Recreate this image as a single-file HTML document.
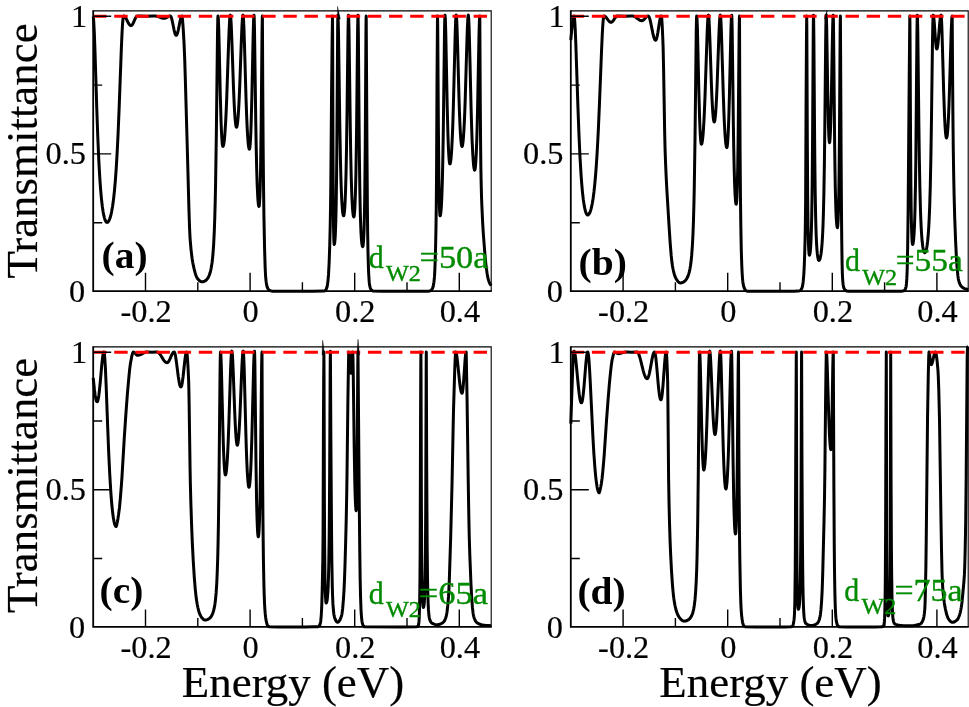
<!DOCTYPE html>
<html lang="en">
<head>
<meta charset="utf-8">
<title>Transmittance vs Energy</title>
<style>
html,body{margin:0;padding:0;background:#fff;}
body{width:969px;height:707px;overflow:hidden;}
svg{display:block;}
text{font-family:"Liberation Serif","Times New Roman",Times,serif;fill:#000;}
.tl{font-size:31.4px;stroke:#000;stroke-width:0.2;}
.pl{font-size:38.3px;font-weight:bold;}
.gl{font-size:32.2px;fill:#008b00;stroke:#008b00;stroke-width:0.35;}
.gl .sub{font-size:23px;}
.axl{font-size:44.9px;stroke:#000;stroke-width:0.2;}
.frame{fill:none;stroke:#000;stroke-width:1.8;stroke-linecap:butt;stroke-linejoin:miter;}
.frame-thin{fill:none;stroke:#000;stroke-width:1.1;}
.tick{fill:none;stroke:#000;stroke-width:1.4;}
.ref{fill:none;stroke:#ff0000;stroke-width:3;stroke-dasharray:13.4 7.74;}
.curve{fill:none;stroke:#000;stroke-width:3;stroke-linejoin:round;stroke-linecap:butt;}
.spike{fill:#000;stroke:#000;stroke-width:0.4;stroke-linejoin:miter;stroke-miterlimit:20;}
</style>
</head>
<body>
<svg width="969" height="707" viewBox="0 0 969 707">
<rect width="969" height="707" fill="#ffffff"/>
<g id="panel-a">
<path class="curve" d="M93.20 16.45 L93.48 18.40 L93.72 21.33 L94.33 33.06 L94.93 49.51 L96.74 107.53 L97.71 134.99 L98.79 160.07 L99.40 171.42 L100.00 181.12 L100.72 190.86 L101.45 198.82 L102.29 206.22 L103.14 211.92 L103.98 216.20 L104.47 218.08 L104.95 219.60 L105.43 220.78 L105.91 221.63 L106.40 222.16 L106.64 222.31 L107.00 222.40 L107.60 222.23 L108.20 221.73 L108.80 220.88 L109.41 219.67 L110.01 218.08 L110.49 216.52 L111.09 214.17 L111.57 211.96 L112.53 206.52 L113.50 199.54 L114.46 190.69 L115.30 181.12 L116.02 171.33 L116.74 159.86 L117.47 146.54 L118.07 133.94 L119.15 107.90 L121.31 49.40 L122.04 32.85 L122.40 26.25 L122.76 21.13 L123.12 17.70 L123.36 16.43 L123.48 16.11 L123.60 16.00 L123.96 16.06 L124.45 16.32 L125.06 16.92 L126.03 18.40 L128.09 22.47 L129.06 24.13 L129.54 24.77 L130.03 25.24 L130.51 25.53 L131.00 25.63 L131.36 25.56 L131.72 25.34 L132.09 24.98 L132.57 24.31 L133.42 22.70 L134.98 19.08 L135.71 17.61 L136.43 16.55 L136.80 16.22 L137.16 16.04 L138.97 16.02 L146.00 16.28 L153.32 16.02 L155.60 16.03 L156.56 16.17 L157.52 16.43 L160.76 17.67 L161.84 18.02 L162.92 18.26 L164.00 18.34 L164.73 18.26 L165.57 18.00 L166.42 17.59 L168.12 16.63 L168.97 16.25 L169.69 16.05 L170.42 16.02 L170.66 16.19 L171.02 16.75 L171.38 17.67 L171.74 18.89 L172.47 22.03 L174.03 29.82 L174.76 32.72 L175.12 33.81 L175.48 34.61 L175.84 35.10 L176.20 35.26 L176.44 35.19 L176.80 34.79 L177.17 34.06 L177.53 33.02 L178.38 29.61 L179.95 21.66 L180.55 19.00 L180.91 17.73 L181.28 16.79 L181.64 16.20 L182.00 16.00 L182.24 17.36 L182.60 20.64 L183.20 28.71 L184.05 43.32 L184.65 57.67 L185.37 80.43 L187.42 152.74 L188.99 211.27 L189.59 228.58 L189.95 236.15 L190.19 239.92 L191.04 249.58 L191.52 253.95 L192.12 258.50 L192.72 262.27 L193.33 265.44 L194.05 268.69 L195.01 272.44 L195.61 274.44 L196.22 276.12 L196.82 277.47 L197.42 278.44 L198.75 279.96 L199.95 281.04 L200.55 281.43 L201.04 281.65 L201.52 281.79 L202.00 281.84 L203.32 281.69 L204.53 281.26 L205.61 280.61 L206.69 279.64 L207.65 278.41 L208.50 276.97 L209.22 275.36 L209.94 273.30 L210.54 271.11 L211.14 268.35 L211.62 265.61 L212.11 262.23 L212.59 258.03 L212.95 254.19 L213.67 244.03 L214.27 231.91 L214.75 218.64 L215.23 200.83 L215.59 183.53 L216.32 135.69 L217.52 32.40 L217.76 20.29 L217.88 17.09 L218.00 16.00 L218.12 16.38 L218.37 19.38 L218.74 28.88 L219.10 42.81 L220.33 96.74 L221.06 121.64 L221.43 130.77 L221.80 137.73 L222.16 142.61 L222.41 144.75 L222.66 146.02 L222.78 146.34 L222.90 146.44 L223.02 146.40 L223.26 146.03 L223.39 145.71 L223.75 144.20 L224.11 141.84 L224.48 138.61 L224.84 134.49 L225.57 123.47 L226.18 111.35 L226.78 96.60 L228.60 43.16 L229.09 30.51 L229.57 20.98 L229.81 17.80 L230.06 15.84 L230.18 15.34 L230.30 15.17 L230.42 15.35 L230.66 16.77 L230.91 19.54 L231.27 25.95 L231.88 41.12 L233.46 87.03 L234.07 101.48 L234.55 110.80 L235.04 118.01 L235.53 123.12 L235.77 124.90 L236.01 126.17 L236.26 126.93 L236.38 127.12 L236.50 127.18 L236.62 127.12 L236.74 126.96 L236.86 126.67 L237.10 125.77 L237.58 122.60 L238.19 116.03 L238.67 108.66 L239.15 99.43 L239.75 85.43 L241.31 41.88 L241.92 27.25 L242.28 20.74 L242.52 17.69 L242.76 15.81 L242.88 15.33 L243.00 15.17 L243.12 15.40 L243.24 16.09 L243.48 18.77 L243.97 28.84 L244.45 43.52 L246.02 98.17 L246.62 115.29 L247.11 126.39 L247.59 135.19 L248.19 143.06 L248.43 145.29 L248.80 147.68 L249.04 148.65 L249.16 148.95 L249.28 149.14 L249.40 149.20 L249.52 149.08 L249.64 148.73 L249.88 147.30 L250.25 143.35 L250.73 134.52 L251.09 125.07 L251.82 98.57 L253.27 30.03 L253.64 19.10 L253.88 15.62 L254.00 15.17 L254.12 16.09 L254.24 18.78 L254.49 28.96 L255.83 125.59 L256.20 146.94 L256.68 168.94 L257.17 184.62 L257.78 197.35 L258.02 200.73 L258.39 204.25 L258.63 205.66 L258.76 206.09 L258.88 206.35 L259.00 206.44 L259.12 206.25 L259.24 205.70 L259.49 203.43 L259.85 196.88 L260.21 185.79 L260.58 168.84 L261.19 122.98 L262.04 32.32 L262.28 17.93 L262.40 16.00 L262.76 89.86 L263.12 144.21 L263.48 182.03 L263.96 217.91 L264.56 247.83 L265.16 267.82 L265.64 276.76 L266.12 281.52 L266.60 284.68 L266.97 286.30 L267.33 287.47 L267.81 288.53 L268.29 289.29 L268.89 289.96 L269.61 290.47 L270.57 290.86 L271.53 291.08 L272.49 291.14 L279.58 291.19 L313.01 291.19 L323.11 291.12 L323.96 291.00 L324.68 290.79 L325.16 290.56 L325.64 290.15 L326.12 289.43 L326.60 288.33 L327.08 286.75 L327.33 285.64 L327.93 281.35 L328.53 274.40 L329.13 262.92 L329.73 245.56 L330.21 225.87 L330.57 204.90 L330.82 183.88 L331.54 94.90 L332.14 39.77 L332.50 16.00 L332.62 31.87 L332.99 147.80 L333.23 196.24 L333.35 211.23 L333.59 230.05 L333.84 239.76 L334.08 243.92 L334.20 244.42 L334.32 244.31 L334.57 243.45 L334.69 242.67 L335.06 238.83 L335.31 234.75 L335.80 221.49 L336.17 204.78 L336.54 178.70 L336.79 153.87 L337.65 29.20 L337.78 18.83 L337.90 15.17 L338.02 15.99 L338.14 18.41 L338.51 34.10 L339.72 120.23 L340.45 160.32 L340.81 174.97 L341.30 189.88 L341.78 200.58 L342.27 207.98 L342.75 212.73 L342.99 214.25 L343.24 215.24 L343.48 215.73 L343.60 215.80 L343.72 215.71 L343.97 215.03 L344.09 214.43 L344.46 211.53 L344.83 206.81 L345.19 199.96 L345.56 190.51 L346.05 172.75 L346.54 147.38 L347.03 112.93 L348.01 32.05 L348.25 19.62 L348.38 16.30 L348.50 15.17 L348.62 16.13 L348.74 18.94 L348.98 29.56 L350.31 129.49 L350.79 157.78 L351.27 178.73 L351.87 196.71 L352.48 207.99 L352.72 211.05 L353.08 214.36 L353.44 216.27 L353.56 216.62 L353.68 216.83 L353.80 216.90 L353.92 216.78 L354.05 216.43 L354.17 215.84 L354.42 213.94 L354.66 210.97 L354.91 206.84 L355.41 194.27 L355.90 174.11 L356.52 133.68 L357.63 28.77 L357.88 16.76 L358.00 15.17 L358.12 17.48 L358.36 34.53 L359.08 124.19 L359.45 161.07 L359.81 188.02 L360.17 207.12 L360.41 216.60 L360.77 227.27 L361.01 232.58 L361.37 238.50 L361.74 242.52 L361.98 244.37 L362.22 245.63 L362.46 246.37 L362.58 246.56 L362.70 246.62 L362.82 246.51 L362.94 246.18 L363.06 245.62 L363.30 243.77 L363.54 240.84 L364.03 230.63 L364.39 217.35 L364.75 196.12 L365.23 147.27 L365.96 31.69 L366.08 20.11 L366.20 16.00 L366.92 142.14 L367.40 208.76 L367.64 232.16 L368.00 252.87 L368.49 269.31 L368.73 274.47 L369.09 280.27 L369.33 283.00 L369.69 285.64 L370.29 287.99 L370.65 288.88 L371.01 289.51 L371.49 290.09 L372.21 290.68 L372.82 290.97 L373.42 291.11 L382.44 291.19 L417.07 291.20 L428.85 291.13 L429.45 291.06 L430.05 290.89 L430.65 290.60 L431.25 290.19 L431.85 289.54 L432.45 288.51 L432.93 287.28 L433.29 285.98 L433.65 284.09 L433.89 282.41 L434.25 279.10 L434.50 276.19 L434.86 269.62 L435.10 263.50 L435.58 246.90 L435.94 230.16 L436.30 204.77 L436.54 174.55 L437.02 79.26 L437.50 16.00 L437.62 20.01 L437.75 31.30 L438.37 125.66 L438.86 177.66 L439.11 193.22 L439.48 207.70 L439.73 212.98 L439.85 214.56 L439.98 215.49 L440.10 215.80 L440.22 215.71 L440.35 215.46 L440.47 215.03 L440.71 213.65 L441.08 210.17 L441.33 206.81 L441.69 199.96 L441.94 193.99 L442.43 177.83 L442.92 154.54 L443.29 131.31 L444.51 32.05 L444.75 19.62 L444.88 16.30 L445.00 15.17 L445.12 15.67 L445.37 19.56 L445.74 31.70 L447.20 106.31 L447.94 134.80 L448.31 145.13 L448.67 153.01 L449.04 158.66 L449.29 161.25 L449.53 162.97 L449.65 163.50 L449.78 163.81 L449.90 163.92 L450.02 163.86 L450.14 163.67 L450.26 163.36 L450.63 161.65 L450.99 158.77 L451.35 154.67 L451.72 149.26 L452.32 137.13 L452.81 124.39 L453.41 104.57 L455.23 32.49 L455.59 22.29 L455.96 16.35 L456.08 15.47 L456.20 15.17 L456.32 15.44 L456.44 16.24 L456.68 19.37 L457.05 27.50 L457.53 43.09 L458.98 97.33 L459.46 112.18 L459.95 124.31 L460.43 133.69 L460.91 140.40 L461.40 144.59 L461.64 145.78 L461.76 146.15 L461.88 146.37 L462.00 146.44 L462.12 146.38 L462.24 146.19 L462.36 145.88 L462.61 144.87 L462.97 142.39 L463.21 140.08 L463.82 131.93 L464.30 122.84 L464.79 111.40 L465.27 97.64 L466.85 43.43 L467.33 28.80 L467.82 18.76 L468.06 16.08 L468.18 15.40 L468.30 15.17 L468.42 15.48 L468.66 17.93 L468.90 22.66 L469.15 29.39 L469.63 47.20 L471.08 108.16 L471.68 128.50 L472.16 141.57 L472.77 154.06 L473.37 162.71 L473.61 165.20 L473.98 167.95 L474.34 169.57 L474.46 169.87 L474.58 170.05 L474.70 170.11 L474.82 170.02 L474.94 169.73 L475.06 169.26 L475.31 167.72 L475.79 162.23 L476.28 153.24 L476.76 140.32 L477.13 127.77 L477.61 107.09 L479.07 32.31 L479.44 20.32 L479.68 16.49 L479.80 16.00 L480.28 103.76 L480.65 149.01 L480.89 169.05 L481.13 181.83 L481.49 195.61 L481.86 205.73 L482.70 223.58 L483.31 233.49 L484.76 252.48 L485.36 259.28 L485.97 265.08 L487.05 273.15 L487.66 276.67 L488.14 278.90 L488.75 280.94 L489.47 282.81 L490.32 284.46 L491.20 285.70"/>
<path class="ref" d="M93.1 16.3 H488.6"/>
<path class="tick" d="M145.5 291.2 v-18.4 M197.8 291.2 v-9 M250.1 291.2 v-18.4 M302.4 291.2 v-9 M354.7 291.2 v-18.4 M407 291.2 v-9 M459.3 291.2 v-18.4 M93.2 222.7 h9 M93.2 153.9 h18 M93.2 85.1 h9 M93.2 16.3 h18"/>
<path class="spike" d="M337.7 19 L337.5 6.4 L340.3 19 Z"/>
<path class="frame-thin" d="M93.2 10.9 H491.2 V291.2"/>
<path class="frame" d="M93.2 10.35 V291.2 H491.75"/>
<text class="tl" text-anchor="end" transform="translate(85.2 302.2) scale(1.03 1)">0</text>
<text class="tl" text-anchor="end" transform="translate(85.9 163.7) scale(1.03 1)">0.5</text>
<text class="tl" text-anchor="end" transform="translate(87.1 27) scale(1.03 1)">1</text>
<text class="tl" text-anchor="middle" transform="translate(146.1 321.6) scale(1.03 1)">-0.2</text>
<text class="tl" text-anchor="middle" transform="translate(250.7 321.6) scale(1.03 1)">0</text>
<text class="tl" text-anchor="middle" transform="translate(355.3 321.6) scale(1.03 1)">0.2</text>
<text class="tl" text-anchor="middle" transform="translate(459.9 321.6) scale(1.03 1)">0.4</text>
<text class="pl" transform="translate(101.6 268.4) scale(1.03 1)">(a)</text>
<text class="gl" x="368.7" y="267.7"><tspan textLength="14.97" lengthAdjust="spacingAndGlyphs">d</tspan><tspan class="sub" x="385.95" dy="13.7" textLength="34.87" lengthAdjust="spacingAndGlyphs">W2</tspan><tspan x="419.46" dy="-13.7" textLength="69.18" lengthAdjust="spacingAndGlyphs">=50a</tspan></text>
</g>
<g id="panel-b">
<path class="curve" d="M570.80 40.21 L572.06 26.30 L572.55 22.03 L573.03 18.76 L573.52 16.70 L573.76 16.18 L574.00 16.00 L574.12 16.14 L574.24 16.54 L574.60 19.36 L574.84 22.50 L575.20 28.92 L575.80 43.25 L577.97 108.16 L579.05 136.66 L580.01 157.27 L581.09 175.42 L581.81 184.96 L582.53 192.78 L583.37 200.04 L584.21 205.60 L585.06 209.72 L585.54 211.50 L586.02 212.89 L586.50 213.92 L586.98 214.59 L587.46 214.93 L587.94 214.94 L588.55 214.60 L589.03 214.06 L589.63 213.03 L590.11 211.92 L590.72 210.15 L591.20 208.41 L592.17 203.99 L593.13 198.15 L593.98 191.69 L594.82 183.76 L595.67 174.12 L596.39 164.30 L597.00 154.89 L597.72 142.00 L598.33 129.87 L599.41 104.99 L601.59 49.55 L602.31 33.68 L602.67 27.23 L603.03 22.07 L603.40 18.41 L603.76 16.39 L603.88 16.10 L604.00 16.00 L604.12 16.00 L604.72 16.17 L605.33 16.56 L606.29 17.56 L608.34 20.37 L609.19 21.36 L609.67 21.80 L610.16 22.11 L610.64 22.29 L611.00 22.33 L611.36 22.28 L611.72 22.14 L612.45 21.58 L613.29 20.56 L614.98 18.01 L615.71 17.05 L616.43 16.36 L616.80 16.14 L617.16 16.02 L618.85 16.02 L624.88 16.28 L631.41 16.01 L632.62 16.00 L633.22 16.07 L634.19 16.38 L635.16 16.89 L636.12 17.56 L638.42 19.33 L639.51 20.02 L640.71 20.53 L641.80 20.68 L642.16 20.64 L642.65 20.48 L643.49 19.93 L644.22 19.24 L646.03 17.23 L646.87 16.49 L647.35 16.20 L647.72 16.07 L648.20 16.00 L648.44 16.07 L648.81 16.44 L649.29 17.39 L649.66 18.43 L650.14 20.19 L650.87 23.44 L652.81 33.14 L653.78 37.04 L654.27 38.48 L654.75 39.51 L655.24 40.09 L655.60 40.22 L655.72 40.19 L655.96 40.00 L656.33 39.34 L656.69 38.26 L657.18 36.24 L657.90 32.20 L659.48 22.00 L660.21 18.31 L660.57 17.05 L660.81 16.47 L661.18 16.03 L661.30 16.00 L661.42 16.20 L661.54 16.79 L661.78 19.02 L662.14 24.52 L662.63 34.62 L663.11 46.64 L663.59 68.90 L664.68 132.91 L665.04 148.09 L665.52 161.92 L666.13 175.97 L666.85 189.79 L669.26 229.27 L670.23 243.64 L671.19 255.40 L672.04 263.05 L672.40 265.53 L672.88 268.20 L673.49 271.05 L674.09 273.46 L674.81 275.82 L675.54 277.64 L676.26 278.99 L677.35 280.66 L678.31 281.84 L679.28 282.63 L680.00 282.94 L680.96 282.88 L682.28 282.56 L683.48 282.02 L684.57 281.28 L685.65 280.21 L686.49 279.08 L687.33 277.61 L688.05 275.98 L688.77 273.88 L689.37 271.65 L689.97 268.84 L690.45 266.04 L690.93 262.58 L691.65 255.70 L692.37 245.81 L692.98 233.97 L693.46 220.96 L693.94 203.43 L694.30 186.31 L695.02 138.53 L696.22 33.04 L696.46 20.47 L696.58 17.13 L696.70 16.00 L696.82 16.39 L697.06 19.45 L697.42 29.10 L698.87 92.32 L699.59 118.23 L699.95 127.80 L700.32 135.10 L700.68 140.21 L700.92 142.46 L701.16 143.80 L701.28 144.13 L701.40 144.24 L701.52 144.19 L701.76 143.79 L701.88 143.44 L702.24 141.76 L702.61 139.15 L702.97 135.59 L703.33 131.04 L703.93 121.18 L704.42 111.21 L705.02 96.18 L707.19 31.50 L707.68 21.38 L707.92 17.98 L708.16 15.88 L708.28 15.35 L708.40 15.17 L708.52 15.36 L708.76 16.84 L709.00 19.72 L709.37 26.37 L709.85 38.52 L711.42 84.61 L711.90 96.38 L712.39 106.03 L712.75 111.79 L713.23 117.45 L713.48 119.42 L713.72 120.83 L713.96 121.67 L714.08 121.88 L714.20 121.95 L714.32 121.89 L714.44 121.69 L714.69 120.92 L714.93 119.62 L715.18 117.80 L715.66 112.59 L716.15 105.26 L716.64 95.84 L717.13 84.48 L718.71 40.16 L719.20 28.09 L719.57 21.16 L719.81 17.88 L720.06 15.86 L720.18 15.35 L720.30 15.17 L720.42 15.39 L720.54 16.03 L720.78 18.56 L721.02 22.64 L721.38 31.22 L723.31 95.05 L723.91 112.05 L724.39 123.22 L724.99 134.09 L725.60 141.65 L725.84 143.79 L726.20 146.08 L726.44 147.02 L726.56 147.31 L726.68 147.49 L726.80 147.55 L726.92 147.44 L727.04 147.12 L727.29 145.84 L727.66 142.28 L728.15 134.36 L728.51 125.90 L728.88 115.20 L729.37 97.44 L730.97 28.37 L731.33 18.64 L731.58 15.57 L731.70 15.17 L731.82 16.25 L731.94 19.42 L732.19 31.31 L733.40 127.07 L733.77 149.57 L734.13 167.15 L734.62 184.06 L735.11 195.08 L735.59 201.51 L735.84 203.27 L735.96 203.81 L736.08 204.13 L736.20 204.24 L736.32 204.04 L736.44 203.43 L736.57 202.41 L736.93 196.67 L737.30 186.30 L737.67 169.98 L738.03 145.93 L738.28 124.78 L739.13 32.86 L739.38 18.00 L739.50 16.00 L739.74 83.31 L740.10 153.65 L740.46 196.80 L740.82 225.69 L741.30 250.74 L741.78 265.64 L742.14 272.99 L742.50 278.32 L742.86 281.94 L743.46 285.48 L744.06 287.64 L744.42 288.53 L744.90 289.41 L745.50 290.20 L745.98 290.67 L746.58 291.00 L747.18 291.13 L756.19 291.19 L783.59 291.20 L794.06 291.17 L798.03 291.11 L799.00 290.93 L799.96 290.58 L800.56 290.18 L801.04 289.67 L801.52 288.93 L802.01 287.88 L802.37 286.70 L802.61 285.59 L803.21 281.43 L803.81 274.62 L804.29 265.27 L804.65 254.99 L805.02 241.49 L805.26 229.61 L805.62 201.32 L806.10 98.86 L806.46 41.47 L806.70 16.00 L806.82 24.99 L807.31 139.17 L807.68 197.56 L808.05 227.45 L808.30 238.79 L808.66 248.79 L809.03 253.68 L809.15 254.50 L809.28 254.99 L809.40 255.15 L809.52 255.08 L809.64 254.88 L809.88 254.06 L810.12 252.64 L810.36 250.54 L810.73 245.80 L811.09 238.51 L811.45 227.43 L811.69 216.93 L812.05 194.17 L812.29 172.35 L812.66 126.14 L813.26 29.98 L813.38 19.04 L813.50 15.17 L813.62 17.94 L813.87 38.17 L814.48 122.01 L814.85 163.71 L815.22 193.57 L815.59 214.26 L815.83 224.40 L816.20 235.75 L816.57 243.80 L816.94 249.57 L817.30 253.70 L817.80 257.38 L818.29 259.49 L818.53 260.06 L818.65 260.24 L818.90 260.38 L819.14 260.30 L819.39 260.08 L819.75 259.44 L820.12 258.43 L820.48 256.99 L821.09 253.47 L821.70 248.09 L822.19 241.91 L822.67 233.33 L823.04 224.70 L823.40 213.49 L823.89 193.01 L824.38 163.71 L824.86 123.07 L825.71 37.25 L825.96 21.06 L826.08 16.67 L826.20 15.17 L826.32 15.97 L826.44 18.33 L826.69 27.21 L827.79 94.57 L828.28 118.52 L828.52 127.36 L828.89 136.73 L829.13 140.49 L829.26 141.66 L829.38 142.36 L829.50 142.59 L829.62 142.40 L829.75 141.84 L829.87 140.89 L830.12 137.85 L830.49 130.30 L830.73 123.20 L831.35 98.00 L832.34 42.55 L832.71 25.04 L832.95 17.74 L833.08 15.82 L833.20 15.17 L833.32 17.13 L833.45 22.81 L833.69 43.16 L834.68 147.90 L834.93 166.51 L835.30 187.86 L835.79 206.91 L836.04 213.46 L836.41 220.53 L836.78 224.96 L837.15 227.21 L837.28 227.52 L837.40 227.63 L837.52 227.44 L837.76 225.86 L838.12 220.23 L838.48 209.62 L838.84 191.81 L839.08 174.22 L839.44 135.95 L840.16 29.68 L840.28 19.57 L840.40 16.00 L841.12 157.06 L841.48 212.47 L841.72 237.99 L842.08 263.07 L842.32 272.76 L842.56 277.79 L842.80 281.29 L843.16 284.75 L843.52 286.77 L843.76 287.63 L844.12 288.60 L844.48 289.29 L844.97 289.92 L845.57 290.42 L846.29 290.82 L846.89 291.02 L847.61 291.13 L856.26 291.19 L878.49 291.20 L901.97 291.13 L902.82 291.03 L903.66 290.79 L904.26 290.51 L904.74 290.09 L905.10 289.58 L905.47 288.83 L905.83 287.75 L906.07 286.76 L906.43 283.97 L906.79 278.90 L907.03 273.98 L907.27 266.57 L907.63 248.73 L908.11 212.12 L909.20 79.26 L909.80 16.00 L909.92 22.12 L910.04 38.84 L910.53 136.15 L910.90 186.31 L911.14 207.16 L911.38 221.31 L911.63 230.91 L911.99 239.61 L912.23 242.75 L912.36 243.68 L912.48 244.23 L912.60 244.42 L912.72 244.35 L912.84 244.16 L912.96 243.84 L913.20 242.81 L913.68 238.96 L914.05 234.19 L914.41 227.29 L914.77 217.50 L915.01 208.84 L915.49 184.26 L915.85 157.09 L916.94 33.52 L917.18 17.35 L917.30 15.17 L917.42 16.30 L917.54 19.61 L917.79 32.06 L918.88 125.46 L919.36 160.24 L919.85 186.39 L920.45 209.40 L920.82 219.40 L921.18 227.31 L921.67 235.36 L922.15 241.29 L922.76 246.51 L923.37 249.90 L923.61 250.84 L923.97 251.87 L924.34 252.47 L924.70 252.67 L924.94 252.61 L925.19 252.40 L925.55 251.84 L925.91 250.96 L926.28 249.72 L926.64 248.09 L927.01 246.02 L927.61 241.40 L928.22 234.89 L928.71 227.87 L929.19 218.67 L929.68 206.59 L930.29 185.91 L930.89 156.83 L931.50 117.45 L932.47 42.77 L932.84 22.66 L933.08 16.03 L933.20 15.17 L933.32 15.29 L933.57 16.18 L933.82 17.91 L934.32 23.39 L935.31 37.64 L935.81 43.67 L936.30 47.64 L936.55 48.68 L936.68 48.94 L936.80 49.02 L936.92 48.96 L937.04 48.79 L937.40 47.54 L937.64 46.15 L938.00 43.30 L938.60 36.90 L939.68 23.57 L940.28 17.88 L940.64 15.87 L940.88 15.25 L941.00 15.17 L941.12 15.44 L941.24 16.25 L941.61 21.68 L941.98 31.00 L943.69 92.10 L944.54 116.04 L945.03 125.74 L945.52 132.55 L945.77 134.91 L946.01 136.58 L946.26 137.58 L946.38 137.83 L946.50 137.91 L946.62 137.84 L946.74 137.61 L946.99 136.70 L947.23 135.17 L947.47 133.02 L947.96 126.82 L948.44 117.99 L948.93 106.48 L949.41 92.41 L951.23 30.47 L951.71 19.83 L951.96 16.97 L952.08 16.24 L952.20 16.00 L952.56 72.86 L952.92 117.14 L953.29 149.78 L953.65 173.19 L954.13 196.30 L954.73 218.09 L955.58 240.44 L956.42 257.87 L957.03 266.74 L957.87 275.66 L958.23 278.32 L958.47 279.65 L958.96 281.48 L959.44 282.94 L960.04 284.39 L960.64 285.50 L961.37 286.47 L962.21 287.24 L963.30 287.95 L964.63 288.56 L966.19 289.07 L968.20 289.54"/>
<path class="ref" d="M570.7 16.3 H965.6"/>
<path class="tick" d="M623.1 291.2 v-18.4 M675.4 291.2 v-9 M727.7 291.2 v-18.4 M780 291.2 v-9 M832.3 291.2 v-18.4 M884.6 291.2 v-9 M936.9 291.2 v-18.4 M570.8 222.7 h9 M570.8 153.9 h18 M570.8 85.1 h9 M570.8 16.3 h18"/>
<path class="spike" d="M824.5 19 L827 10.2 L827.1 19 Z"/>
<path class="frame-thin" d="M570.8 10.9 H968.2 V291.2"/>
<path class="frame" d="M570.8 10.35 V291.2 H968.75"/>
<text class="tl" text-anchor="end" transform="translate(562.8 302.2) scale(1.03 1)">0</text>
<text class="tl" text-anchor="end" transform="translate(563.5 163.7) scale(1.03 1)">0.5</text>
<text class="tl" text-anchor="end" transform="translate(564.7 27) scale(1.03 1)">1</text>
<text class="tl" text-anchor="middle" transform="translate(623.7 321.6) scale(1.03 1)">-0.2</text>
<text class="tl" text-anchor="middle" transform="translate(728.3 321.6) scale(1.03 1)">0</text>
<text class="tl" text-anchor="middle" transform="translate(832.9 321.6) scale(1.03 1)">0.2</text>
<text class="tl" text-anchor="middle" transform="translate(937.5 321.6) scale(1.03 1)">0.4</text>
<text class="pl" transform="translate(578.6 275.1) scale(1.03 1)">(b)</text>
<text class="gl" x="844.9" y="271"><tspan textLength="14.97" lengthAdjust="spacingAndGlyphs">d</tspan><tspan class="sub" x="862.15" dy="13.7" textLength="34.87" lengthAdjust="spacingAndGlyphs">W2</tspan><tspan x="895.66" dy="-13.7" textLength="67.24" lengthAdjust="spacingAndGlyphs">=55a</tspan></text>
</g>
<g id="panel-c">
<path class="curve" d="M93.20 377.80 L94.44 389.75 L95.04 394.42 L95.53 397.41 L96.13 400.09 L96.62 401.34 L96.86 401.65 L97.10 401.76 L97.34 401.63 L97.59 401.24 L97.95 400.20 L98.44 397.94 L98.80 395.63 L99.29 391.80 L100.14 383.41 L101.84 364.23 L102.69 356.58 L103.17 353.69 L103.54 352.43 L103.78 352.05 L103.90 352.00 L104.02 352.11 L104.26 353.02 L104.50 354.80 L104.86 359.04 L105.47 369.70 L106.19 386.76 L107.88 432.20 L108.72 453.00 L109.69 473.29 L110.77 491.46 L111.38 499.57 L111.98 506.40 L112.58 512.07 L113.31 517.50 L114.03 521.55 L114.75 524.36 L115.11 525.33 L115.48 526.02 L115.84 526.43 L116.20 526.56 L116.68 524.96 L117.29 522.27 L117.89 518.93 L118.49 515.05 L119.46 507.68 L120.30 498.84 L121.26 486.78 L121.99 476.73 L124.28 437.89 L125.97 412.97 L127.41 393.73 L128.98 376.01 L129.70 368.90 L130.43 363.43 L131.75 356.36 L132.24 354.37 L132.72 352.87 L132.96 352.35 L133.20 352.00 L133.81 352.16 L134.54 352.71 L136.01 354.35 L136.50 354.82 L137.11 355.20 L137.72 355.30 L138.81 355.17 L139.89 354.84 L141.09 354.30 L144.23 352.66 L145.19 352.30 L146.16 352.07 L146.88 352.00 L147.73 352.01 L152.00 352.27 L156.27 352.01 L157.12 352.00 L157.48 352.06 L157.96 352.25 L158.56 352.64 L159.16 353.21 L159.77 353.93 L160.85 355.50 L163.37 359.59 L164.09 360.61 L164.70 361.34 L165.30 361.93 L165.90 362.36 L166.50 362.63 L167.10 362.72 L167.46 362.65 L167.94 362.35 L168.43 361.83 L168.91 361.10 L169.76 359.44 L171.81 354.68 L172.65 353.13 L173.13 352.51 L173.50 352.20 L173.86 352.03 L174.22 352.03 L174.59 352.50 L174.95 353.51 L175.31 355.03 L175.68 356.99 L176.41 361.95 L178.23 376.25 L179.20 382.36 L179.69 384.55 L180.05 385.75 L180.29 386.32 L180.54 386.70 L180.78 386.89 L180.90 386.91 L181.14 386.78 L181.51 386.07 L181.87 384.77 L182.23 382.91 L183.08 376.74 L184.66 362.01 L185.39 356.24 L185.75 354.13 L186.11 352.71 L186.36 352.18 L186.48 352.04 L186.60 352.00 L186.72 352.13 L186.84 352.52 L187.08 354.02 L187.56 359.55 L188.04 367.77 L188.65 380.67 L188.89 390.14 L189.13 404.01 L190.09 470.02 L190.33 482.44 L190.81 500.94 L191.54 523.65 L192.26 541.65 L193.22 560.53 L194.31 577.64 L195.27 589.37 L196.23 598.06 L196.71 601.36 L197.32 604.78 L197.92 607.74 L198.64 610.71 L199.36 613.07 L200.08 614.85 L201.05 616.51 L202.13 618.04 L203.09 619.09 L203.58 619.48 L204.06 619.78 L204.54 619.96 L204.90 620.03 L205.99 619.95 L207.20 619.66 L208.41 619.12 L209.50 618.37 L210.46 617.42 L211.31 616.28 L212.03 615.00 L212.76 613.33 L213.37 611.54 L213.97 609.24 L214.45 606.92 L214.94 604.01 L215.42 600.32 L216.15 592.65 L216.75 583.25 L217.23 572.63 L217.72 557.83 L218.08 542.77 L218.44 523.06 L219.05 476.42 L220.02 375.26 L220.26 358.21 L220.38 353.58 L220.50 352.00 L220.62 352.34 L220.87 355.04 L221.11 360.20 L221.36 367.45 L222.83 426.60 L223.32 443.45 L223.69 453.75 L224.05 461.96 L224.54 469.70 L224.91 473.20 L225.16 474.46 L225.28 474.78 L225.40 474.88 L225.52 474.82 L225.64 474.64 L225.76 474.34 L226.00 473.38 L226.37 471.02 L226.61 468.83 L227.21 461.12 L227.69 452.60 L228.18 441.93 L228.78 425.75 L230.59 369.07 L231.08 358.02 L231.32 354.28 L231.56 351.96 L231.68 351.37 L231.80 351.18 L231.92 351.35 L232.17 352.73 L232.41 355.41 L232.78 361.60 L233.27 372.92 L234.73 412.45 L235.22 423.50 L235.71 432.45 L236.20 439.08 L236.57 442.47 L236.93 444.51 L237.06 444.89 L237.18 445.12 L237.30 445.19 L237.42 445.13 L237.54 444.94 L237.78 444.17 L238.14 442.07 L238.62 437.49 L239.11 430.89 L239.59 422.36 L240.07 412.08 L241.51 375.65 L242.12 362.26 L242.48 356.29 L242.72 353.49 L242.96 351.76 L243.08 351.32 L243.20 351.18 L243.32 351.46 L243.44 352.32 L243.68 355.68 L244.17 368.07 L245.86 433.22 L246.34 449.10 L246.82 462.16 L247.31 472.33 L247.91 481.19 L248.40 485.40 L248.64 486.59 L248.76 486.96 L248.88 487.18 L249.00 487.25 L249.12 487.17 L249.24 486.91 L249.37 486.49 L249.61 485.14 L250.10 480.34 L250.59 472.62 L251.08 461.77 L251.93 434.93 L253.64 366.05 L253.89 359.05 L254.13 354.08 L254.38 351.50 L254.50 351.18 L254.62 352.62 L254.87 363.60 L255.97 461.95 L256.58 500.70 L256.95 515.82 L257.32 526.19 L257.56 530.95 L257.81 534.21 L258.05 536.11 L258.18 536.58 L258.30 536.73 L258.42 536.57 L258.55 536.07 L258.79 534.04 L259.04 530.55 L259.29 525.45 L259.66 514.28 L260.03 497.93 L260.64 455.91 L261.63 365.12 L261.88 353.53 L262.00 352.00 L262.24 409.78 L262.60 475.64 L262.96 520.43 L263.44 560.78 L263.92 585.27 L264.17 593.99 L264.53 603.45 L264.89 609.60 L265.25 613.95 L265.73 618.04 L266.33 621.65 L266.93 624.00 L267.17 624.63 L267.53 625.30 L268.02 625.94 L268.50 626.40 L269.10 626.71 L269.70 626.83 L278.36 626.89 L304.69 626.90 L314.05 626.87 L317.18 626.80 L318.02 626.65 L318.74 626.38 L319.10 626.13 L319.46 625.66 L319.82 624.87 L320.18 623.71 L320.54 622.08 L320.78 620.45 L321.26 615.28 L321.62 608.88 L321.86 602.35 L322.22 589.12 L322.82 560.38 L323.06 535.29 L323.42 430.33 L323.66 382.15 L323.90 352.00 L324.02 370.36 L324.38 496.39 L324.63 545.50 L324.99 579.62 L325.23 590.42 L325.47 596.75 L325.84 601.59 L325.96 602.38 L326.08 602.83 L326.20 602.98 L326.45 602.80 L326.57 602.56 L326.82 601.78 L327.19 599.75 L327.44 597.68 L327.81 593.14 L328.18 586.05 L328.55 574.85 L328.79 563.70 L329.16 537.72 L329.41 510.75 L329.66 472.74 L330.15 373.86 L330.28 357.23 L330.40 351.18 L330.88 441.80 L331.48 525.57 L331.84 561.42 L332.32 586.91 L332.56 595.23 L332.92 603.63 L333.40 609.99 L333.88 614.21 L334.12 615.68 L334.48 617.21 L335.08 618.93 L335.56 620.06 L336.04 620.95 L336.64 621.73 L337.12 622.10 L337.60 622.23 L338.20 622.07 L338.81 621.61 L339.41 620.86 L340.01 619.80 L340.74 618.13 L341.46 616.03 L341.82 614.59 L342.06 613.24 L342.67 608.43 L343.39 599.92 L343.99 590.60 L344.48 580.09 L345.08 562.57 L345.68 541.33 L346.17 521.93 L346.65 498.23 L347.01 474.71 L347.86 403.08 L348.34 371.37 L348.70 352.00 L348.82 352.20 L348.95 352.77 L349.19 354.96 L350.31 370.59 L350.55 372.51 L350.68 373.00 L350.80 373.17 L350.93 372.95 L351.05 372.32 L351.31 369.89 L352.32 354.17 L352.57 352.25 L352.70 352.00 L352.82 353.09 L352.94 356.31 L353.18 368.30 L354.15 443.58 L354.75 479.46 L355.11 493.76 L355.48 503.35 L355.72 507.43 L355.96 509.83 L356.08 510.42 L356.20 510.62 L356.32 509.88 L356.56 503.84 L356.68 498.35 L356.92 481.66 L357.28 440.06 L357.76 367.31 L357.88 356.04 L358.00 352.00 L359.32 509.04 L359.80 553.25 L360.16 579.12 L360.52 595.78 L361.00 609.40 L361.24 613.68 L361.60 618.07 L361.96 621.14 L362.32 623.15 L362.80 624.69 L363.16 625.48 L363.52 626.07 L363.76 626.34 L364.12 626.62 L364.48 626.77 L364.96 626.84 L401.69 626.90 L416.22 626.82 L417.42 626.61 L417.90 626.41 L418.14 626.22 L418.38 625.68 L418.50 625.22 L418.74 623.82 L418.98 621.64 L419.22 617.87 L419.46 610.81 L419.70 599.46 L419.94 581.24 L420.18 548.30 L420.54 423.72 L420.78 366.08 L420.90 352.00 L421.02 372.49 L421.40 504.69 L421.65 552.54 L421.77 566.77 L422.02 584.73 L422.27 594.81 L422.52 600.75 L422.90 605.48 L423.02 606.34 L423.27 607.27 L423.40 607.38 L423.52 607.30 L423.76 606.67 L424.00 605.31 L424.25 603.05 L424.61 597.13 L424.85 590.45 L425.21 572.34 L425.45 549.67 L425.70 510.02 L426.18 366.57 L426.30 352.00 L426.66 459.74 L427.14 544.33 L427.50 576.95 L427.74 590.08 L428.10 602.71 L428.46 609.69 L428.94 615.52 L429.31 617.85 L429.67 619.27 L430.15 620.71 L430.63 621.73 L431.11 622.41 L431.47 622.75 L432.43 623.39 L433.51 623.94 L434.72 624.38 L435.92 624.63 L437.00 624.70 L438.44 624.57 L439.88 624.18 L441.32 623.54 L442.76 622.67 L443.48 622.09 L444.08 621.36 L444.68 620.37 L445.28 619.06 L445.88 617.39 L446.24 616.13 L446.72 613.79 L447.08 611.46 L447.80 605.15 L448.52 596.38 L448.88 590.20 L449.36 578.86 L450.68 537.22 L452.00 485.33 L453.20 424.14 L453.56 408.44 L454.76 368.92 L455.24 357.58 L455.60 352.00 L455.72 352.04 L455.96 352.38 L456.32 353.51 L456.69 355.33 L457.05 357.76 L457.77 364.00 L459.46 380.68 L459.95 384.77 L460.43 388.18 L460.91 390.77 L461.28 392.13 L461.64 392.96 L461.88 393.20 L462.00 393.24 L462.12 393.16 L462.25 392.94 L462.49 392.05 L462.74 390.58 L463.11 387.37 L463.73 379.77 L465.21 358.19 L465.71 353.63 L465.95 352.41 L466.08 352.10 L466.20 352.00 L467.04 397.22 L468.24 481.86 L468.85 517.78 L469.21 535.24 L469.81 555.02 L471.01 584.83 L471.61 596.61 L472.45 607.49 L473.06 612.89 L473.42 615.09 L473.78 616.57 L474.38 618.51 L475.10 620.27 L475.82 621.53 L476.54 622.39 L477.51 623.12 L478.71 623.76 L480.03 624.28 L481.48 624.68 L483.16 625.00 L485.20 625.28 L491.20 625.80"/>
<path class="ref" d="M93.1 352.3 H488.6"/>
<path class="tick" d="M145.5 626.9 v-17.5 M197.8 626.9 v-9 M250.1 626.9 v-17.5 M302.4 626.9 v-9 M354.7 626.9 v-17.5 M407 626.9 v-9 M459.3 626.9 v-17.5 M93.2 558.47 h9 M93.2 489.75 h18 M93.2 421.03 h9 M93.2 352.3 h18"/>
<path class="spike" d="M322 355 L322.7 340.3 L324.6 355 Z"/>
<path class="spike" d="M356.9 355 L358 339.3 L359.5 355 Z"/>
<path class="frame-thin" d="M93.2 346.9 H491.2 V626.9"/>
<path class="frame" d="M93.2 346.35 V626.9 H491.75"/>
<text class="tl" text-anchor="end" transform="translate(85.2 637.9) scale(1.03 1)">0</text>
<text class="tl" text-anchor="end" transform="translate(85.9 499.55) scale(1.03 1)">0.5</text>
<text class="tl" text-anchor="end" transform="translate(87.1 363) scale(1.03 1)">1</text>
<text class="tl" text-anchor="middle" transform="translate(146.1 657.6) scale(1.03 1)">-0.2</text>
<text class="tl" text-anchor="middle" transform="translate(250.7 657.6) scale(1.03 1)">0</text>
<text class="tl" text-anchor="middle" transform="translate(355.3 657.6) scale(1.03 1)">0.2</text>
<text class="tl" text-anchor="middle" transform="translate(459.9 657.6) scale(1.03 1)">0.4</text>
<text class="pl" transform="translate(99.6 603.3) scale(1.03 1)">(c)</text>
<text class="gl" x="368.7" y="603.5"><tspan textLength="14.97" lengthAdjust="spacingAndGlyphs">d</tspan><tspan class="sub" x="385.95" dy="13.7" textLength="34.87" lengthAdjust="spacingAndGlyphs">W2</tspan><tspan x="418.86" dy="-13.7" textLength="69.18" lengthAdjust="spacingAndGlyphs">=65a</tspan></text>
</g>
<g id="panel-d">
<path class="curve" d="M570.80 423.63 L572.67 369.44 L573.28 356.99 L573.52 353.80 L573.76 351.84 L573.88 351.34 L574.00 351.18 L574.12 351.22 L574.36 351.55 L574.73 352.67 L575.21 355.24 L575.70 358.87 L576.18 363.33 L578.25 385.42 L579.22 394.14 L579.82 398.23 L580.31 400.62 L580.67 401.86 L580.91 402.41 L581.16 402.75 L581.40 402.86 L581.52 402.82 L581.76 402.52 L582.01 401.91 L582.25 401.02 L582.73 398.36 L583.22 394.62 L584.07 385.90 L585.88 363.46 L586.61 356.43 L586.97 354.01 L587.34 352.51 L587.58 352.06 L587.70 352.00 L587.82 352.08 L587.94 352.31 L588.31 353.95 L588.67 356.93 L589.03 361.12 L589.52 368.35 L590.24 381.78 L592.91 436.90 L593.87 453.48 L594.84 467.01 L595.33 472.62 L595.93 478.59 L596.42 482.57 L597.02 486.57 L597.51 489.03 L598.11 491.22 L598.59 492.28 L598.84 492.58 L599.20 492.75 L599.68 491.50 L600.16 489.69 L600.76 486.80 L601.37 483.39 L602.09 478.23 L602.81 471.25 L603.65 461.92 L604.25 454.34 L606.54 420.18 L608.22 397.77 L609.43 383.23 L610.51 372.40 L611.35 364.91 L612.07 359.98 L613.16 355.33 L613.64 353.71 L614.00 352.78 L614.24 352.35 L614.48 352.07 L614.60 352.00 L614.97 352.04 L615.70 352.30 L617.65 353.46 L618.13 353.61 L618.62 353.65 L619.47 353.58 L620.31 353.42 L623.82 352.32 L624.67 352.13 L625.52 352.02 L626.98 352.03 L631.00 352.27 L637.00 352.00 L637.24 352.04 L637.60 352.26 L638.08 352.83 L638.56 353.70 L639.04 354.86 L639.65 356.64 L640.73 360.58 L643.13 370.33 L643.85 372.90 L644.45 374.75 L645.18 376.56 L645.78 377.66 L646.14 378.13 L646.50 378.46 L646.86 378.63 L647.10 378.67 L647.46 378.52 L647.95 377.89 L648.31 377.09 L648.80 375.63 L649.28 373.76 L649.89 370.93 L651.95 359.61 L652.80 355.63 L653.29 353.90 L653.77 352.70 L654.01 352.31 L654.26 352.08 L654.50 352.00 L654.62 352.05 L654.86 352.46 L655.22 353.80 L655.59 355.97 L655.95 358.85 L656.67 366.20 L658.24 384.29 L658.73 389.13 L659.21 393.23 L659.69 396.41 L660.05 398.14 L660.30 398.97 L660.54 399.52 L660.78 399.80 L660.90 399.83 L661.14 399.63 L661.50 398.58 L661.86 396.65 L662.23 393.90 L663.07 384.70 L664.39 366.29 L665.00 358.89 L665.36 355.50 L665.60 353.81 L665.96 352.29 L666.08 352.07 L666.20 352.00 L666.32 352.26 L666.56 354.22 L666.92 360.37 L667.28 369.60 L667.65 381.40 L667.89 400.45 L668.61 479.39 L668.97 499.93 L669.45 520.85 L670.06 540.26 L670.66 554.60 L671.50 570.75 L672.35 583.39 L672.83 589.21 L673.31 594.15 L673.79 598.27 L674.40 602.40 L675.00 605.58 L675.72 608.73 L676.45 611.31 L677.29 613.72 L678.13 615.58 L679.10 617.14 L680.67 619.08 L681.39 619.80 L682.11 620.38 L682.96 620.86 L683.80 621.13 L684.64 621.09 L685.49 620.96 L686.33 620.75 L687.06 620.49 L688.14 619.93 L689.11 619.22 L689.95 618.38 L690.80 617.25 L691.52 615.97 L692.24 614.29 L692.85 612.47 L693.33 610.63 L693.81 608.34 L694.29 605.45 L695.02 599.49 L695.62 592.22 L696.22 581.54 L696.71 569.09 L697.07 556.30 L697.67 524.90 L698.27 474.72 L699.24 367.63 L699.48 353.83 L699.60 352.00 L699.72 352.44 L699.97 355.89 L700.34 366.64 L701.70 427.07 L702.32 448.75 L702.69 458.12 L703.06 464.72 L703.43 468.64 L703.55 469.36 L703.68 469.79 L703.80 469.93 L703.92 469.86 L704.04 469.65 L704.16 469.31 L704.40 468.19 L704.88 464.26 L705.37 458.01 L705.85 449.39 L706.33 438.37 L706.81 425.08 L708.62 367.09 L709.10 356.39 L709.46 352.03 L709.58 351.39 L709.70 351.18 L709.82 351.33 L710.06 352.53 L710.30 354.89 L710.66 360.33 L711.15 370.34 L712.71 408.49 L713.19 418.04 L713.55 423.89 L713.92 428.49 L714.28 431.81 L714.64 433.80 L714.88 434.40 L715.00 434.47 L715.12 434.40 L715.36 433.80 L715.72 431.81 L716.08 428.49 L716.57 422.07 L717.41 405.83 L718.73 373.18 L719.34 360.33 L719.70 354.89 L719.94 352.53 L720.18 351.33 L720.30 351.18 L720.42 351.50 L720.54 352.45 L720.79 356.18 L721.15 365.78 L722.86 434.23 L723.34 450.94 L723.83 464.50 L724.32 474.90 L724.80 482.29 L725.29 486.88 L725.53 488.18 L725.66 488.58 L725.78 488.82 L725.90 488.90 L726.02 488.82 L726.14 488.58 L726.27 488.18 L726.51 486.88 L727.00 482.29 L727.48 474.90 L727.97 464.50 L728.46 450.94 L728.94 434.23 L730.65 365.78 L730.89 358.90 L731.13 354.02 L731.38 351.50 L731.50 351.18 L731.62 352.40 L731.74 355.99 L731.98 369.33 L733.08 461.00 L733.68 497.07 L734.05 511.65 L734.53 524.62 L734.77 528.82 L735.02 531.72 L735.26 533.42 L735.38 533.84 L735.50 533.98 L735.62 533.74 L735.74 533.01 L735.86 531.77 L736.22 524.83 L736.58 512.18 L736.82 499.80 L737.30 462.94 L738.14 369.69 L738.38 354.11 L738.50 352.00 L738.86 447.20 L739.10 489.51 L739.46 530.94 L739.82 559.07 L740.42 590.48 L740.90 604.94 L741.26 611.09 L741.62 615.35 L742.10 619.37 L742.58 622.31 L743.06 624.25 L743.30 624.88 L743.66 625.50 L744.14 626.10 L744.62 626.50 L745.10 626.72 L745.70 626.83 L755.43 626.90 L785.00 626.89 L790.29 626.83 L791.13 626.76 L791.73 626.63 L792.33 626.39 L792.57 626.21 L792.81 625.84 L793.05 625.22 L793.53 623.14 L794.01 619.89 L794.26 617.26 L794.50 613.24 L794.74 605.75 L794.86 599.76 L795.22 569.91 L795.34 550.67 L795.70 462.23 L796.30 352.00 L796.42 382.44 L796.79 532.38 L796.92 556.52 L797.16 583.34 L797.29 590.91 L797.54 600.25 L797.78 605.29 L797.91 606.86 L798.15 608.73 L798.28 609.17 L798.40 609.31 L798.52 609.25 L798.65 609.06 L799.02 607.72 L799.26 606.01 L799.63 601.69 L800.00 593.83 L800.25 585.01 L800.49 570.96 L800.86 530.07 L801.11 477.30 L801.48 365.91 L801.60 352.00 L801.96 460.27 L802.45 544.41 L802.69 569.12 L802.93 585.65 L803.17 597.44 L803.54 608.23 L803.78 613.00 L804.14 617.40 L804.50 619.59 L804.87 621.18 L805.23 622.32 L805.59 623.09 L805.96 623.56 L807.04 624.35 L808.13 624.90 L809.22 625.26 L810.31 625.46 L811.52 625.52 L812.60 625.44 L813.68 625.21 L814.88 624.79 L815.97 624.26 L817.05 623.57 L817.65 622.99 L818.25 622.10 L818.85 620.83 L819.33 619.48 L819.81 617.78 L820.17 616.17 L820.41 614.69 L821.01 609.20 L821.61 600.86 L822.09 591.94 L822.45 582.17 L822.82 569.41 L824.02 521.35 L824.50 497.89 L824.86 472.73 L825.58 400.60 L825.94 373.42 L826.30 352.00 L826.42 352.26 L826.66 354.30 L826.91 358.23 L827.15 363.79 L828.72 415.10 L829.45 434.08 L829.81 440.86 L830.17 445.71 L830.54 448.62 L830.66 449.16 L830.78 449.48 L830.90 449.59 L831.03 449.16 L831.15 447.87 L831.28 445.71 L831.66 434.08 L832.04 415.10 L832.79 367.08 L833.05 356.04 L833.17 353.03 L833.30 352.00 L833.90 489.83 L834.26 545.78 L834.50 570.33 L834.87 592.60 L835.23 605.64 L835.71 615.35 L835.95 618.20 L836.43 621.70 L836.91 623.84 L837.15 624.55 L837.52 625.27 L838.00 625.94 L838.48 626.40 L838.96 626.67 L839.56 626.82 L847.51 626.89 L874.49 626.89 L881.00 626.84 L882.44 626.69 L883.29 626.36 L883.53 626.10 L883.65 625.86 L884.01 624.48 L884.37 621.69 L884.61 618.16 L884.73 615.25 L885.10 599.70 L885.34 576.96 L885.58 535.58 L885.94 424.64 L886.30 352.00 L886.68 543.39 L886.81 571.59 L887.06 597.31 L887.19 603.50 L887.44 610.45 L887.69 613.83 L887.82 614.79 L888.07 615.79 L888.20 615.90 L888.33 615.84 L888.58 615.30 L888.95 613.19 L889.33 608.42 L889.58 602.18 L889.83 590.50 L889.95 580.67 L890.20 543.39 L890.70 352.00 L891.06 479.79 L891.42 549.50 L891.66 575.27 L892.02 598.05 L892.38 609.57 L892.62 614.17 L892.86 617.42 L893.22 620.13 L893.58 621.60 L893.94 622.68 L894.30 623.44 L894.66 623.93 L894.90 624.11 L895.63 624.37 L897.67 624.92 L899.83 625.31 L902.35 625.60 L905.24 625.76 L908.60 625.80 L911.36 625.70 L914.00 625.46 L916.52 625.07 L918.68 624.56 L920.36 623.99 L920.84 623.64 L921.32 623.14 L921.80 622.48 L922.28 621.64 L922.76 620.61 L923.24 619.36 L923.84 617.02 L924.32 613.99 L924.80 609.06 L925.04 604.01 L925.28 596.34 L925.88 567.29 L926.24 539.49 L927.56 416.27 L928.28 374.71 L928.76 356.00 L929.00 352.00 L929.12 352.10 L929.24 352.40 L929.61 354.35 L930.34 360.62 L930.71 363.23 L930.96 364.28 L931.08 364.55 L931.20 364.65 L931.32 364.62 L931.57 364.41 L931.82 364.01 L932.31 362.66 L932.81 360.74 L934.04 355.10 L934.54 353.33 L934.78 352.69 L935.03 352.25 L935.28 352.03 L935.40 352.00 L935.52 352.05 L935.76 352.46 L936.00 353.26 L936.49 355.92 L937.09 360.94 L937.69 367.46 L938.05 371.95 L938.29 376.37 L938.78 389.96 L939.50 419.46 L940.95 518.14 L941.55 552.01 L942.03 572.79 L942.27 579.57 L942.63 586.20 L943.00 591.09 L943.36 594.94 L943.84 599.28 L944.32 602.89 L944.80 605.91 L945.41 609.06 L946.13 612.25 L946.85 615.01 L947.46 616.86 L948.06 618.24 L948.90 619.55 L949.75 620.64 L950.59 621.51 L951.44 622.09 L952.28 622.35 L953.12 622.29 L954.20 621.95 L955.28 621.37 L956.84 620.17 L957.56 619.39 L958.28 618.17 L959.00 616.51 L959.72 614.47 L960.32 612.28 L960.80 610.03 L961.28 607.31 L961.76 604.10 L962.12 601.13 L963.92 581.76 L964.40 574.67 L964.76 565.62 L965.12 552.18 L965.48 534.56 L965.72 518.43 L966.20 474.90 L967.16 359.57 L967.28 352.54 L967.52 347.81 L967.64 346.90 L968.00 346.90"/>
<path class="ref" d="M570.7 352.3 H965.6"/>
<path class="tick" d="M623.1 626.9 v-17.5 M675.4 626.9 v-9 M727.7 626.9 v-17.5 M780 626.9 v-9 M832.3 626.9 v-17.5 M884.6 626.9 v-9 M936.9 626.9 v-17.5 M570.8 558.47 h9 M570.8 489.75 h18 M570.8 421.03 h9 M570.8 352.3 h18"/>
<path class="frame-thin" d="M570.8 346.9 H968.2 V626.9"/>
<path class="frame" d="M570.8 346.35 V626.9 H968.75"/>
<text class="tl" text-anchor="end" transform="translate(562.8 637.9) scale(1.03 1)">0</text>
<text class="tl" text-anchor="end" transform="translate(563.5 499.55) scale(1.03 1)">0.5</text>
<text class="tl" text-anchor="end" transform="translate(564.7 363) scale(1.03 1)">1</text>
<text class="tl" text-anchor="middle" transform="translate(623.7 657.6) scale(1.03 1)">-0.2</text>
<text class="tl" text-anchor="middle" transform="translate(728.3 657.6) scale(1.03 1)">0</text>
<text class="tl" text-anchor="middle" transform="translate(832.9 657.6) scale(1.03 1)">0.2</text>
<text class="tl" text-anchor="middle" transform="translate(937.5 657.6) scale(1.03 1)">0.4</text>
<text class="pl" transform="translate(577.4 604.3) scale(1.03 1)">(d)</text>
<text class="gl" x="844.2" y="600.6"><tspan textLength="14.97" lengthAdjust="spacingAndGlyphs">d</tspan><tspan class="sub" x="861.45" dy="13.7" textLength="34.87" lengthAdjust="spacingAndGlyphs">W2</tspan><tspan x="894.46" dy="-13.7" textLength="68.21" lengthAdjust="spacingAndGlyphs">=75a</tspan></text>
</g>
<text class="axl" text-anchor="middle" transform="translate(36.7 151) rotate(-90)">Transmittance</text>
<text class="axl" text-anchor="middle" transform="translate(36.7 485.4) rotate(-90)">Transmittance</text>
<text class="axl" text-anchor="middle" x="293" y="696.5">Energy (eV)</text>
<text class="axl" text-anchor="middle" x="770.5" y="696.5">Energy (eV)</text>
</svg>
</body>
</html>
